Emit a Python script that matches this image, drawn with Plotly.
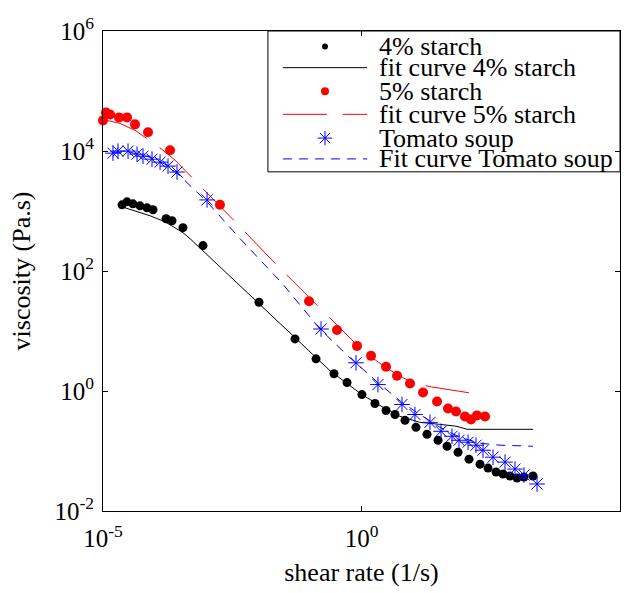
import plotly.graph_objects as go

# ---- measured data -------------------------------------------------------
# 4% starch
shear_4 = [2.33e-5, 2.91e-5, 3.80e-5, 5.20e-5, 7.10e-5, 9.27e-5, 1.66e-4, 2.16e-4,
           3.52e-4, 8.59e-4, 1.04e-2, 5.18e-2, 0.132, 0.294, 0.525, 1.02, 1.82, 2.98,
           4.44, 6.94, 11.3, 18.5, 30.2, 45.1, 73.6, 120, 196, 280, 400, 546, 745,
           1019, 1390, 2075]
visc_4 = [1268, 1420, 1315, 1219, 1130, 1047, 743, 689, 527, 265, 30.2, 7.38, 3.44,
          1.94, 1.38, 0.871, 0.618, 0.473, 0.406, 0.324, 0.248, 0.190, 0.151, 0.120,
          0.0955, 0.0731, 0.0604, 0.0519, 0.0446, 0.0413, 0.0383, 0.0355, 0.0368,
          0.0383]

# 5% starch
shear_5 = [1.0e-5, 1.14e-5, 1.37e-5, 2.04e-5, 2.91e-5, 4.16e-5, 7.42e-5, 1.98e-4,
           1.83e-3, 9.66e-2, 0.336, 0.818, 1.53, 2.98, 4.86, 8.67, 15.5, 28.9, 47.1,
           67.3, 100.5, 131, 171, 245]
visc_5 = [32360, 43900, 40650, 36300, 36300, 27800, 20470, 10300, 1268, 31.4, 10.4,
          5.65, 3.85, 2.54, 1.80, 1.33, 0.942, 0.668, 0.512, 0.456, 0.377, 0.336,
          0.392, 0.377]

# Tomato soup
shear_t = [1.56e-5, 1.95e-5, 3.05e-5, 4.55e-5, 5.94e-5, 8.87e-5, 1.27e-4, 1.81e-4,
           2.70e-4, 1.03e-3, 0.165, 0.783, 2.08, 6.07, 10.8, 21.1, 34.5, 56.3, 76.9,
           115, 164, 224, 350, 597, 931, 1390, 2483]
visc_t = [9200, 9960, 9960, 8850, 8200, 7310, 6530, 5600, 4460, 1530, 10.8, 2.95,
          1.28, 0.596, 0.406, 0.300, 0.213, 0.176, 0.151, 0.140, 0.125, 0.103,
          0.0789, 0.0653, 0.0500, 0.0397, 0.0282]

# fitted model curves
fit_shear_4 = [2.33e-5, 4.16e-5, 8.11e-5, 1.58e-4, 3.52e-4, 4.82e-4, 6.97e-3, 7.38e-2,
               0.246, 1.02, 2.28, 5.56, 13.5, 33.0, 70.3, 110, 2075]
fit_visc_4 = [1175, 1007, 833, 662, 436, 347, 39.4, 5.65, 2.18, 0.871, 0.573, 0.377,
              0.300, 0.278, 0.258, 0.230, 0.230]

fit_shear_5 = [1.19e-5, 2.13e-5, 4.16e-5, 6.49e-5, 1.16e-4, 2.47e-4, 5.27e-4, 1.17e-3,
               4.47e-3, 2.22e-2, 0.151, 1.07, 2.98, 8.67, 21.1, 51.5, 150]
fit_visc_5 = [32360, 28850, 22100, 16900, 12000, 7050, 3680, 1785, 547, 129, 24.9,
              4.67, 2.44, 1.43, 1.18, 1.05, 0.906]

fit_shear_t = [1.56e-5, 3.33e-5, 8.11e-5, 1.58e-4, 2.82e-4, 5.27e-4, 1.03e-3, 4.47e-3,
               3.03e-2, 0.157, 0.600, 2.08, 6.07, 13.5, 33.0, 80.4, 196, 478, 2075]
fit_visc_t = [9550, 9550, 7890, 6040, 4130, 2420, 1420, 347, 60.0, 10.8, 3.57, 1.38,
              0.643, 0.406, 0.248, 0.169, 0.135, 0.125, 0.120]

x_tick_vals = [1e-5, 1e0, 1e5]
x_tick_text = ["10<sup>-5</sup>", "10<sup>0</sup>", "10<sup>5</sup>"]
y_tick_vals = [1e-2, 1e0, 1e2, 1e4, 1e6]
y_tick_text = ["10<sup>-2</sup>", "10<sup>0</sup>", "10<sup>2</sup>",
               "10<sup>4</sup>", "10<sup>6</sup>"]

legend_labels = ["4% starch", "fit curve 4% starch", "5% starch",
                 "fit curve 5% starch", "Tomato soup", "Fit curve Tomato soup"]

FONT = "Liberation Serif"
BLACK, RED, BLUE = "#000000", "#ff0000", "#0000ff"
RED_DASH = "44px,16px"
BLUE_DASH = "9px,7px"

fig = go.Figure()

# fit curves
fig.add_trace(go.Scatter(x=fit_shear_4, y=fit_visc_4, mode="lines",
                         line=dict(color=BLACK, width=1), showlegend=False))
fig.add_trace(go.Scatter(x=fit_shear_5, y=fit_visc_5, mode="lines",
                         line=dict(color=RED, width=1, dash=RED_DASH), showlegend=False))
fig.add_trace(go.Scatter(x=fit_shear_t, y=fit_visc_t, mode="lines",
                         line=dict(color=BLUE, width=1, dash=BLUE_DASH), showlegend=False))

# measurements
fig.add_trace(go.Scatter(x=shear_4, y=visc_4, mode="markers", cliponaxis=False,
                         marker=dict(color=BLACK, size=9, line=dict(width=0)),
                         showlegend=False))
fig.add_trace(go.Scatter(x=shear_5, y=visc_5, mode="markers", cliponaxis=False,
                         marker=dict(color=RED, size=10, line=dict(width=0)),
                         showlegend=False))
fig.add_trace(go.Scatter(x=shear_t, y=visc_t, mode="markers", cliponaxis=False,
                         marker=dict(symbol="asterisk-open", color=BLUE, size=13,
                                     line=dict(color=BLUE, width=1)),
                         showlegend=False))

# ---- legend box, drawn on an overlay axis spanning the plot area ----------
row_y = [0.9676, 0.9236, 0.8746, 0.8264, 0.7769, 0.7335]
sample_x0, sample_x1, sample_xm, text_x = 0.348, 0.511, 0.4294, 0.530

leg = dict(xaxis="x2", yaxis="y2", showlegend=False, hoverinfo="skip")
fig.add_trace(go.Scatter(x=[sample_xm], y=[row_y[0]], mode="markers",
                         marker=dict(color=BLACK, size=6), **leg))
fig.add_trace(go.Scatter(x=[sample_x0, sample_x1], y=[row_y[1]] * 2, mode="lines",
                         line=dict(color=BLACK, width=1), **leg))
fig.add_trace(go.Scatter(x=[sample_xm], y=[row_y[2]], mode="markers",
                         marker=dict(color=RED, size=8), **leg))
fig.add_trace(go.Scatter(x=[sample_x0, sample_x1], y=[row_y[3]] * 2, mode="lines",
                         line=dict(color=RED, width=1, dash=RED_DASH), **leg))
fig.add_trace(go.Scatter(x=[sample_xm], y=[row_y[4]], mode="markers",
                         marker=dict(symbol="asterisk-open", color=BLUE, size=12,
                                     line=dict(color=BLUE, width=1)), **leg))
fig.add_trace(go.Scatter(x=[sample_x0, sample_x1], y=[row_y[5]] * 2, mode="lines",
                         line=dict(color=BLUE, width=1, dash=BLUE_DASH), **leg))

for label, yy in zip(legend_labels, row_y):
    fig.add_annotation(x=text_x, y=yy, xref="x2", yref="y2", text=label,
                       showarrow=False, xanchor="left", yanchor="middle",
                       font=dict(family=FONT, size=26, color=BLACK))

fig.add_shape(type="rect", xref="x2", yref="y2", x0=0.319, x1=1.0, y0=0.7066, y1=1.0,
              line=dict(color=BLACK, width=1), fillcolor="rgba(0,0,0,0)")

axis_common = dict(type="log", ticks="inside", ticklen=5, tickwidth=1,
                   tickcolor=BLACK, showline=True, linecolor=BLACK, linewidth=1,
                   mirror="ticks", showgrid=False, zeroline=False,
                   tickfont=dict(family=FONT, size=25, color=BLACK))

fig.update_layout(
    width=637, height=593,
    margin=dict(l=103, r=17, t=31, b=78),
    paper_bgcolor="white", plot_bgcolor="white",
    font=dict(family=FONT, color=BLACK),
    showlegend=False,
    xaxis=dict(range=[-5, 5], tickvals=x_tick_vals, ticktext=x_tick_text,
               ticklabelstandoff=5,
               title=dict(text="shear rate (1/s)", standoff=11,
                          font=dict(family=FONT, size=26, color=BLACK)),
               **axis_common),
    yaxis=dict(range=[-2, 6], tickvals=y_tick_vals, ticktext=y_tick_text,
               ticklabelstandoff=3,
               title=dict(text="viscosity (Pa.s)", standoff=16,
                          font=dict(family=FONT, size=26, color=BLACK)),
               **axis_common),
    xaxis2=dict(overlaying="x", anchor="y2", range=[0, 1], visible=False, fixedrange=True),
    yaxis2=dict(overlaying="y", anchor="x2", range=[0, 1], visible=False, fixedrange=True),
)

fig.write_html("out.html")
